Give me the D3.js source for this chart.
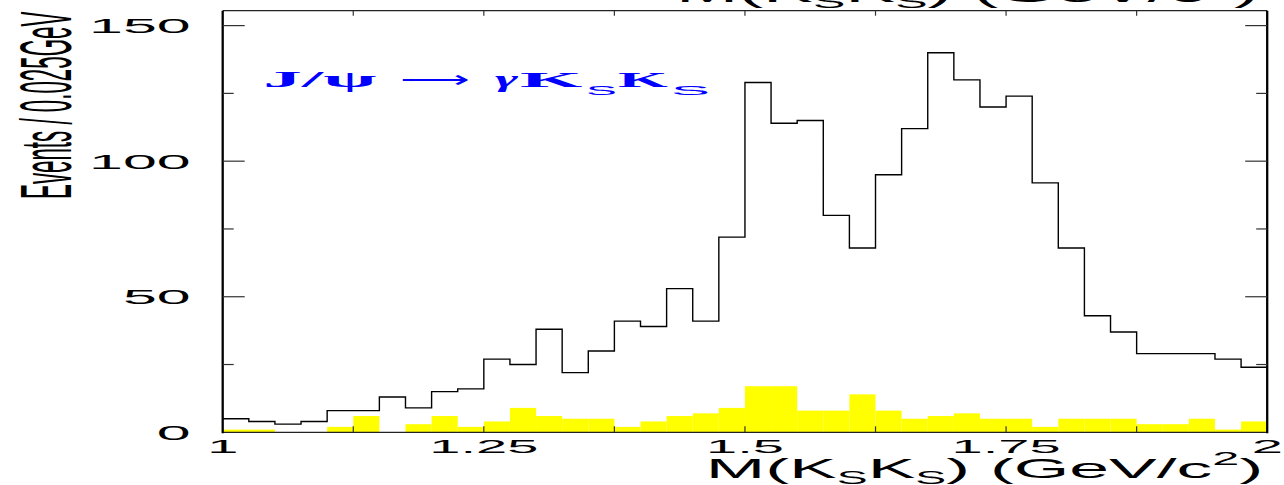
<!DOCTYPE html>
<html><head><meta charset="utf-8">
<script src="https://cdn.jsdelivr.net/npm/d3@7"></script>
<style>html,body{margin:0;padding:0;background:#fff;overflow:hidden}</style>
</head><body>
<svg id="c" width="1284" height="485"></svg>
<script>
// ---- data (events per 0.025 GeV bin, from 1.0 to 2.0 GeV) ----
const binStart = 1.0;
const binWidth = 0.025;
const dataCounts = [5,4,3,4,8,8,13,9,15,16,27,25,38,22,30,41,39,53,41,72,
                    129,114,115,80,68,95,112,140,130,120,124,92,68,43,37,29,29,29,27,24];
const bkgCounts  = [1,1,0,0,2,6,0,3,6,2,4,9,6,5,5,2,4,6,7,9,
                    17,17,8,8,14,8,5,6,7,5,5,2,5,5,5,3,3,5,1,4];
const xTickValues = [1, 1.25, 1.5, 1.75, 2];
const xTickLabels = ["1", "1.25", "1.5", "1.75", "2"];
const xMinorTicks = [1.125, 1.25, 1.375, 1.5, 1.625, 1.75, 1.875];
const yTickValues = [0, 50, 100, 150];
const yTickLabels = ["0", "50", "100", "150"];
const yMinorTicks = [25, 75, 125];

const SANS = "'Liberation Sans', Arial, Helvetica, sans-serif";
const SERIF = "'Liberation Serif', 'Times New Roman', serif";

const svg = d3.select("#c");
const x = d3.scaleLinear().domain([1, 2]).range([222.7, 1267.2]);
const y = d3.scaleLinear().domain([0, 155.5]).range([432.3, 10.7]);

function fit(g, x0, x1, by) {
  const bb = g.node().getBBox();
  const s = (x1 - x0) / bb.width;
  g.attr("transform", `translate(${x0 - bb.x * s},${by}) scale(${s},1)`);
}

// ---- background (yellow) ----
svg.append("g").selectAll("rect").data(bkgCounts).join("rect")
  .attr("x", (d, i) => x(binStart + i * binWidth))
  .attr("width", (d, i) => x(binStart + (i + 1) * binWidth) - x(binStart + i * binWidth))
  .attr("y", d => y(d))
  .attr("height", d => y(0) - y(d))
  .attr("fill", "#ffff00");

// ---- data histogram (step line) ----
const pts = dataCounts.map((v, i) => [binStart + i * binWidth, v]);
pts.push([binStart + dataCounts.length * binWidth, dataCounts[dataCounts.length - 1]]);
svg.append("path")
  .attr("d", d3.line().x(d => x(d[0])).y(d => y(d[1])).curve(d3.curveStepAfter)(pts))
  .attr("fill", "none").attr("stroke", "#000").attr("stroke-width", 1.4);

// ---- frame ----
const [X0, X1] = x.range();
const Y0 = y(0), YT = y(155.5);
svg.append("line").attr("x1", X0).attr("x2", X1).attr("y1", YT).attr("y2", YT).attr("stroke", "#222").attr("stroke-width", 1.2);
svg.append("line").attr("x1", X0).attr("x2", X1).attr("y1", Y0).attr("y2", Y0).attr("stroke", "#222").attr("stroke-width", 1.3);
svg.append("line").attr("x1", X0).attr("x2", X0).attr("y1", YT).attr("y2", Y0 + 1).attr("stroke", "#000").attr("stroke-width", 2.3);
svg.append("line").attr("x1", X1).attr("x2", X1).attr("y1", YT).attr("y2", Y0 + 1).attr("stroke", "#000").attr("stroke-width", 2.3);

// y ticks (left and right, inward)
const tk = svg.append("g").attr("stroke", "#333").attr("stroke-width", 1.2);
yTickValues.forEach(v => {
  if (v === 0) return;
  tk.append("line").attr("x1", X0).attr("x2", X0 + 22).attr("y1", y(v)).attr("y2", y(v));
  tk.append("line").attr("x1", X1).attr("x2", X1 - 22).attr("y1", y(v)).attr("y2", y(v));
});
yMinorTicks.forEach(v => {
  tk.append("line").attr("x1", X0).attr("x2", X0 + 11).attr("y1", y(v)).attr("y2", y(v));
  tk.append("line").attr("x1", X1).attr("x2", X1 - 11).attr("y1", y(v)).attr("y2", y(v));
});
// x ticks (bottom up, top down)
xMinorTicks.forEach(v => {
  tk.append("line").attr("x1", x(v)).attr("x2", x(v)).attr("y1", Y0).attr("y2", Y0 - 6);
  tk.append("line").attr("x1", x(v)).attr("x2", x(v)).attr("y1", YT).attr("y2", YT + 5);
});

// ---- tick labels ----
yTickValues.forEach((v, i) => {
  svg.append("text").attr("font-family", SANS).attr("font-size", 21)
    .attr("text-anchor", "end")
    .attr("transform", `translate(190.7,${y(v) + 7.5}) scale(2.9,1)`)
    .text(yTickLabels[i]);
});
xTickValues.forEach((v, i) => {
  svg.append("text").attr("font-family", SANS).attr("font-size", 19)
    .attr("text-anchor", "middle")
    .attr("transform", `translate(${x(v)},452.5) scale(2.95,1)`)
    .text(xTickLabels[i]);
});

// ---- y title ----
const yt = svg.append("g").attr("transform", "translate(70.5,199) rotate(-90)");
const ytIn = yt.append("g");
ytIn.append("text").attr("font-family", SANS).attr("font-size", 72).text("Events / 0.025GeV");
{
  const bb = ytIn.node().getBBox();
  const s = 187.3 / bb.width;
  ytIn.attr("transform", `translate(${-bb.x * s},0) scale(${s},1)`);
}

// ---- x title (bottom) ----
function massTitle(g, fs) {
  const t = g.append("text").attr("font-family", SANS).attr("font-size", fs);
  t.append("tspan").text("M(K");
  t.append("tspan").attr("font-size", fs * 0.65).attr("dy", fs * 0.22).text("S");
  t.append("tspan").attr("dy", -fs * 0.22).text("K");
  t.append("tspan").attr("font-size", fs * 0.65).attr("dy", fs * 0.22).text("S");
  t.append("tspan").attr("dy", -fs * 0.22).text(") (GeV/c");
  t.append("tspan").attr("font-size", fs * 0.68).attr("dy", -fs * 0.45).text("2");
  t.append("tspan").attr("dy", fs * 0.45).text(")");
}
const xt = svg.append("g");
massTitle(xt, 28);
fit(xt, 705.7, 1263.3, 478);

// clipped title of the panel above
const xt2 = svg.append("g");
massTitle(xt2, 28);
fit(xt2, 676, 1259, 1.5);

// ---- process label ----
const BLUE = "#0000ff";
function part(txt, x0, x1, by, opts) {
  const g = svg.append("g");
  g.append("text").attr("font-family", opts.family).attr("font-weight", opts.weight || "normal")
    .attr("font-style", opts.style || "normal").attr("font-size", opts.size).attr("fill", BLUE).text(txt);
  fit(g, x0, x1, by);
}
part("J/ψ", 263.3, 377, 86.5, {family: SERIF, weight: "bold", size: 23});
part("⟶", 400, 470, 87, {family: SERIF, size: 23});
part("γ", 495, 519, 86.5, {family: SERIF, weight: "bold", style: "italic", size: 23});
part("K", 520, 585, 86.5, {family: SERIF, weight: "bold", size: 21});
part("S", 586, 617, 95, {family: SANS, size: 12});
part("K", 618, 670, 86.5, {family: SERIF, weight: "bold", size: 21});
part("S", 671, 710, 95, {family: SANS, size: 12});
</script>
</body></html>
